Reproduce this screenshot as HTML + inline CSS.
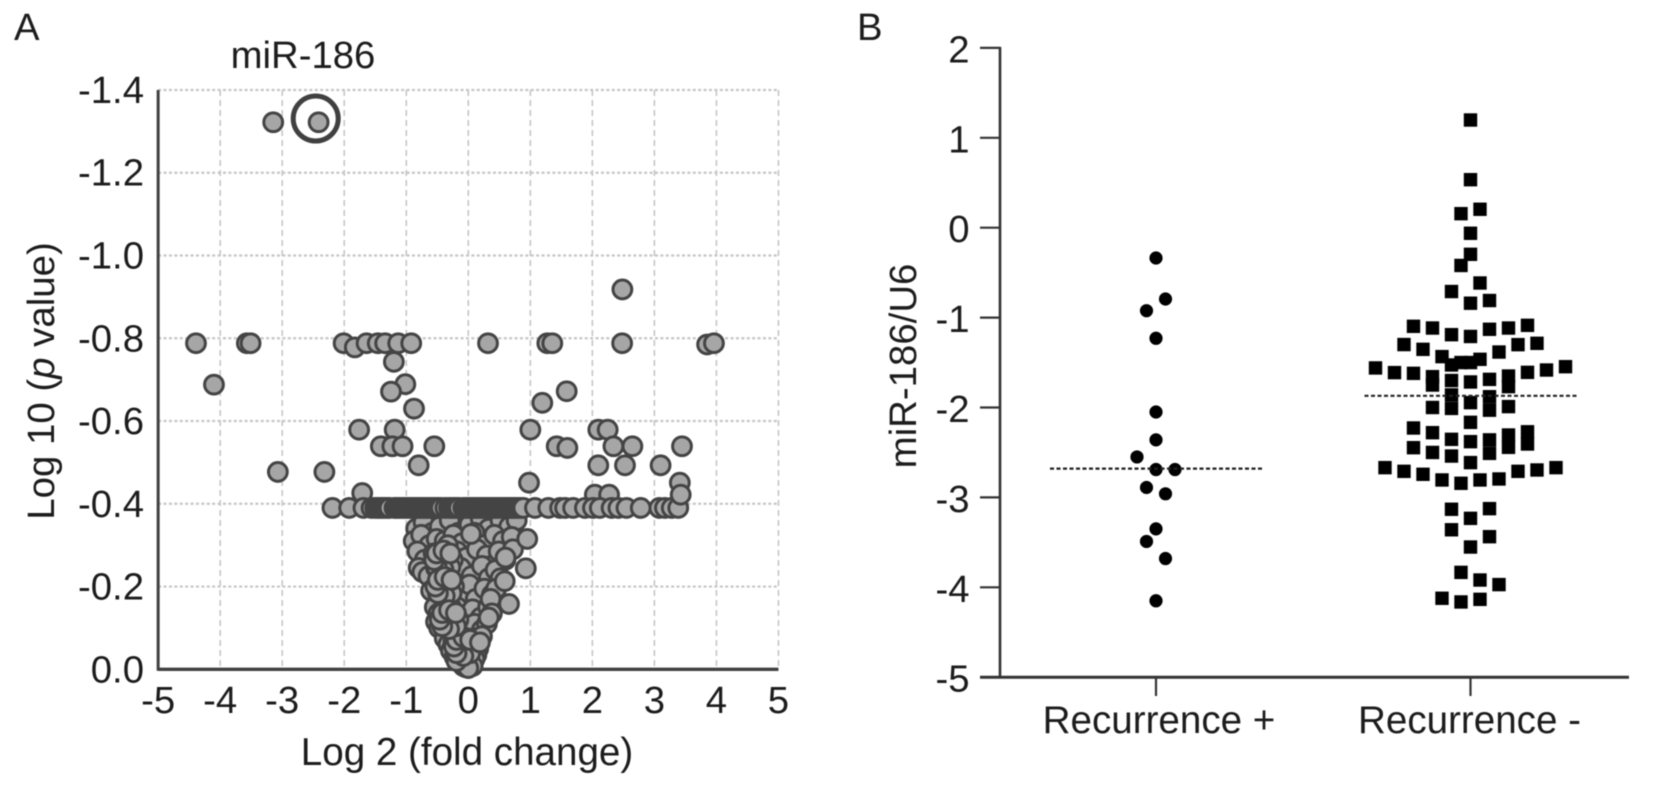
<!DOCTYPE html>
<html lang="en">
<head>
<meta charset="utf-8">
<title>miR-186 volcano plot and dot plot</title>
<style>
html,body{margin:0;padding:0;background:#fff;width:1654px;height:786px;overflow:hidden}
svg{display:block;filter:blur(.5px)}
text{font-family:"Liberation Sans",Arial,sans-serif;fill:#1c1c1c;font-size:38.3px}
.b{font-size:38.6px}
</style>
</head>
<body>
<svg id="fig" xmlns="http://www.w3.org/2000/svg" width="1654" height="786" viewBox="0 0 1654 786">
<rect width="1654" height="786" fill="#fff"/>
<g id="gridA"></g>
<g id="marksA"></g>
<g id="axesA"></g>
<g id="axesB"></g>
<g id="marksB"></g>
<text x="14" y="40">A</text>
<text x="857" y="40">B</text>
<text x="303" y="68" text-anchor="middle">miR-186</text>
<text x="467" y="765" text-anchor="middle" style="font-size:38.6px">Log 2 (fold change)</text>
<text transform="translate(54,381) rotate(-90)" text-anchor="middle" style="font-size:38.4px">Log 10 (<tspan font-style="italic">p</tspan> value)</text>
<text transform="translate(916,366) rotate(-90)" text-anchor="middle" style="font-size:38.4px">miR-186/U6</text>
</svg>
<script>
// ---- Panel A data ----
const volcanoXTicks = [-5,-4,-3,-2,-1,0,1,2,3,4,5];
const volcanoYTicks = [0,-0.2,-0.4,-0.6,-0.8,-1.0,-1.2,-1.4];
const volcanoYTickLabels = ["0.0","-0.2","-0.4","-0.6","-0.8","-1.0","-1.2","-1.4"];
const conePoints = [
 [-.84,-.34],[-.72,-.355],[-.58,-.33],[-.88,-.31],[-.46,-.345],[-.3,-.36],[-.16,-.33],[.02,-.35],[.2,-.365],[.33,-.34],[.52,-.36],[.66,-.345],[.78,-.36],
 [-.76,-.325],[-.63,-.3],[-.51,-.315],[-.38,-.31],[-.24,-.325],[-.1,-.305],[.1,-.33],[.26,-.30],[.42,-.325],[.56,-.31],[.7,-.32],
 [-.82,-.285],[-.7,-.265],[-.8,-.245],[-.56,-.28],[-.44,-.27],[-.37,-.29],[-.31,-.26],[-.18,-.285],[-.03,-.27],[.14,-.29],[.3,-.275],[.37,-.25],[.49,-.285],[.6,-.265],[.72,-.29],
 [-.74,-.235],[-.64,-.225],[-.52,-.245],[-.42,-.24],[-.38,-.215],[-.34,-.25],[-.28,-.23],[-.36,-.27],[-.41,-.20],[-.3,-.19],[-.12,-.245],[.05,-.225],[.22,-.25],[.33,-.22],[.44,-.24],[.52,-.22],
 [-.6,-.19],[-.52,-.2],[-.46,-.17],[-.38,-.165],[-.33,-.145],[-.24,-.2],[-.09,-.18],[.02,-.205],[.12,-.17],[.26,-.195],[.38,-.18],[.45,-.195],
 [-.54,-.15],[-.48,-.135],[-.4,-.125],[-.28,-.11],[-.18,-.15],[-.05,-.13],[.07,-.145],[.2,-.125],[.32,-.15],[.36,-.17],[.38,-.135],
 [-.52,-.115],[-.47,-.10],[-.36,-.09],[-.26,-.08],[-.14,-.1],[-.02,-.09],[.1,-.11],[.22,-.095],[.3,-.11],[.33,-.125],
 [-.38,-.075],[-.32,-.06],[-.28,-.045],[-.24,-.065],[-.17,-.055],[-.1,-.07],[-.02,-.055],[.08,-.075],[.16,-.05],[.22,-.08],[.13,-.035],
 [-.22,-.03],[-.17,-.035],[-.13,-.02],[-.1,-.04],[-.06,-.015],[0,-.03],[.06,-.02],[.1,-.025],[-.08,-.008],[-.04,-.005],[.03,-.01],[.07,-.008],[0,-.003],
 [-.4,-.25],[-.36,-.23],[-.4,-.22],[-.35,-.2],[-.37,-.18],[-.32,-.21],[-.44,-.21],[-.3,-.28],[-.33,-.3],[-.28,-.15],[-.14,-.05],[-.12,-.06],[-.08,-.04],[-.15,-.07],[-.19,-.02],
 [-.25,-.264],[-.29,-.247],[-.4,-.241],[-.51,-.247],[-.55,-.264],[-.51,-.28],[-.4,-.287],[-.29,-.28],
 [-.23,-.2],[-.27,-.184],[-.38,-.177],[-.49,-.184],[-.53,-.2],[-.49,-.216],[-.38,-.223],[-.27,-.216],
 [.07,-.055],[.03,-.039],[-.08,-.032],[-.19,-.039],[-.23,-.055],[-.19,-.071],[-.08,-.078],[.03,-.071],
 [-.16,-.12],[-.2,-.104],[-.31,-.097],[-.42,-.104],[-.46,-.12],[-.42,-.136],[-.31,-.143],[-.2,-.136]
];
const coneTopX = [0.6,0.043,0.587,0.656,0.188,0.927,0.95];
const coneTopY = [-0.27,-0.327,-0.213,-0.158,-0.065,-0.244,-0.315];
const behindBandX = [-1.71,2.04,2.27];
const behindBandY = [-0.426,-0.422,-0.422];
const bandLevel = -0.39;
const bandFoldChanges = [-2.19,-1.92,-1.69,-1.56,-1.5,-1.46,-1.42,-1.38,-1.34,-1.3,-1.27,-1.19,-1.16,-1.12,-1.08,-1.04,-1,-0.96,-0.92,-0.88,-0.84,-0.8,-0.76,-0.72,-0.68,-0.64,-0.6,-0.56,-0.52,-0.48,-0.44,-0.37,-0.31,-0.27,-0.23,-0.19,-0.15,-0.08,-0.04,0,0.04,0.08,0.12,0.16,0.2,0.24,0.28,0.32,0.36,0.4,0.44,0.48,0.52,0.56,0.6,0.64,0.68,0.72,0.76,0.8,0.84,0.887,1.075,1.29,1.48,1.56,1.69,1.88,2.01,2.12,2.31,2.42,2.55,2.78,3.08,3.17,3.28,3.385];
const sparseX = [-3.145,-2.413,2.484,-4.39,-3.57,-3.51,-2.01,-1.83,-1.64,-1.46,-1.34,-1.13,-0.92,0.318,1.274,1.354,2.48,3.85,3.96,-1.2,-4.1,-1.015,-1.246,-0.875,1.586,1.193,-1.76,-1.187,1.0,2.096,2.247,-1.41,-1.225,-1.06,-0.548,1.425,1.597,2.34,2.645,3.445,-0.8,-3.07,-2.32,2.096,2.526,3.1,0.979,3.41,3.424];
const sparseY = [-1.322,-1.322,-0.918,-0.788,-0.788,-0.788,-0.788,-0.778,-0.788,-0.788,-0.788,-0.788,-0.788,-0.788,-0.788,-0.788,-0.788,-0.785,-0.788,-0.743,-0.688,-0.689,-0.671,-0.63,-0.672,-0.644,-0.579,-0.579,-0.579,-0.579,-0.579,-0.539,-0.539,-0.539,-0.539,-0.539,-0.535,-0.539,-0.539,-0.539,-0.493,-0.477,-0.477,-0.493,-0.493,-0.493,-0.451,-0.451,-0.422];
const circledPointX = -2.46;
const circledPointY = -1.331;

// ---- Panel B data ----
const groupLabels = ["Recurrence +","Recurrence -"];
const dotYTicks = [2,1,0,-1,-2,-3,-4,-5];
const groupMeans = [-2.68,-1.87];
const recurrencePosValues = [-0.337,-0.793,-0.923,-1.23,-2.05,-2.36,-2.55,-2.69,-2.69,-2.89,-2.96,-3.35,-3.49,-3.68,-4.15];
const recurrencePosSlots  = [0,1,-1,0,0,0,-2,0,2,-1,1,0,-1,1,0];
const recurrenceNegValues = [1.198,0.534,0.205,0.156,-0.062,-0.296,-0.42,-0.615,-0.71,-0.81,-0.84,-1.097,-1.116,-1.086,-1.116,-1.13,-1.19,-1.21,-1.30,-1.353,-1.383,-1.301,-1.286,-1.434,-1.464,-1.5,-1.5,-1.527,-1.56,-1.546,-1.583,-1.609,-1.612,-1.62,-1.657,-1.75,-1.65,-1.768,-1.687,-1.7,-1.716,-1.86,-2.01,-1.88,-2.03,-1.946,-2.0,-1.99,-2.165,-2.228,-2.28,-2.306,-2.443,-2.27,-2.406,-2.354,-2.38,-2.36,-2.51,-2.447,-2.5,-2.54,-2.613,-2.669,-2.669,-2.695,-2.71,-2.71,-2.743,-2.806,-2.806,-2.795,-2.843,-3.132,-3.125,-3.233,-3.36,-3.437,-3.552,-3.834,-3.919,-3.97,-4.122,-4.134,-4.163];
const recurrenceNegSlots  = [0,0,1,-1,0,0,-1,1,-2,2,0,-6,-4,6,4,2,-2,0,-7,-5,3,5,7,-3,1,0,-1,-2,-10,10,8,6,-8,-6,-4,-4,4,4,2,-2,0,-2,-2,2,2,0,-4,4,0,-6,-4,4,4,6,6,-2,0,2,2,-6,-4,-2,0,-9,9,7,5,-7,-5,-3,1,3,-1,-2,2,0,-2,2,0,-1,1,3,-3,1,-1];

// ---- Scales ----
const NS = 'http://www.w3.org/2000/svg';
const xA = v => 468.3 + 62.03 * v;
const yA = v => 669.3 + 413.8 * v;
const yB = v => 227.7 - 89.9 * v;
const groupCenters = [1156, 1470.5];
const slotWidth = 9.5;
const xB = (g, s) => groupCenters[g] + s * slotWidth;

function make(tag, parent, attrs, txt){
  const el = document.createElementNS(NS, tag);
  for (const k in attrs) el.setAttribute(k, attrs[k]);
  if (txt !== undefined) el.textContent = txt;
  parent.appendChild(el);
  return el;
}
const gridA = document.getElementById('gridA');
const marksA = document.getElementById('marksA');
const axesA = document.getElementById('axesA');
const axesB = document.getElementById('axesB');
const marksB = document.getElementById('marksB');

// ---- Panel A grid ----
volcanoXTicks.forEach(t => {
  if (t === -5) return;
  const l = make('line', gridA, {x1:xA(t), x2:xA(t), y1:yA(-1.4), y2:yA(0), stroke:'#c6c6c6', 'stroke-width':1.6, 'stroke-dasharray':'6 4'});
  
  
});
volcanoYTicks.forEach(t => {
  if (t === 0) return;
  const l = make('line', gridA, {x1:xA(-5), x2:xA(5), y1:yA(t), y2:yA(t), stroke:'#c6c6c6', 'stroke-width':2.2, 'stroke-dasharray':'3 2.4'});
  
  
});

// ---- Panel A axes sit under the points ----
const axYA = make('line', axesA, {x1:xA(-5), x2:xA(-5), y1:yA(-1.4), y2:yA(0)+1.5, stroke:'#404040', 'stroke-width':3});


const axXA = make('line', axesA, {x1:xA(-5), x2:xA(5), y1:yA(0), y2:yA(0), stroke:'#404040', 'stroke-width':3.4});


volcanoXTicks.forEach(t => {
  const l = make('text', axesA, {x:xA(t), y:713, 'text-anchor':'middle'}, String(t));
  
  
});
volcanoYTicks.forEach((t, i) => {
  const l = make('text', axesA, {x:144, y:yA(t)+13, 'text-anchor':'end'}, volcanoYTickLabels[i]);
  
  
});
document.getElementById('fig').insertBefore(axesA, marksA);

// ---- Panel A points ----
function volcanoPoint(fc, lp){
  const c = make('circle', marksA, {cx:xA(fc), cy:yA(lp), r:9.4, fill:'#a6a6a6', stroke:'#444444', 'stroke-width':3});
  
  
}
conePoints.forEach(p => volcanoPoint(p[0], p[1]));
coneTopX.forEach((fc, i) => volcanoPoint(fc, coneTopY[i]));
behindBandX.forEach((fc, i) => volcanoPoint(fc, behindBandY[i]));
bandFoldChanges.forEach(fc => volcanoPoint(fc, bandLevel));
sparseX.forEach((fc, i) => volcanoPoint(fc, sparseY[i]));
const ring = make('circle', marksA, {cx:xA(circledPointX), cy:yA(circledPointY), r:22.5, fill:'none', stroke:'#404040', 'stroke-width':5});



// ---- Panel B axes ----
const axYB = make('line', axesB, {x1:1000, x2:1000, y1:yB(2)-1, y2:yB(-5), stroke:'#333', 'stroke-width':2.6});


const axXB = make('line', axesB, {x1:980, x2:1629, y1:yB(-5), y2:yB(-5), stroke:'#333', 'stroke-width':3});


dotYTicks.forEach(t => {
  const k = make('line', axesB, {x1:980, x2:1000, y1:yB(t), y2:yB(t), stroke:'#333', 'stroke-width':2.2});
  
  
  const l = make('text', axesB, {x:969.5, y:yB(t)+14.5, 'text-anchor':'end'}, String(t));
  
  
});
groupLabels.forEach((g, i) => {
  const k = make('line', axesB, {x1:groupCenters[i], x2:groupCenters[i], y1:yB(-5), y2:696, stroke:'#333', 'stroke-width':2.2});
  
  
  const l = make('text', axesB, {x:groupCenters[i]+(i===0?3:-1), y:733, 'text-anchor':'middle', class:'b'}, g);
  
  
});

// ---- Panel B marks ----
recurrencePosValues.forEach((v, i) => {
  const c = make('circle', marksB, {cx:xB(0, recurrencePosSlots[i]), cy:yB(v), r:6.6, fill:'#000'});
  
  
});
recurrenceNegValues.forEach((v, i) => {
  const r = make('rect', marksB, {x:xB(1, recurrenceNegSlots[i])-6.7, y:yB(v)-6.7, width:13.4, height:13.4, fill:'#000'});
  
  
});
groupMeans.forEach((m, i) => {
  const l = make('line', marksB, {x1:groupCenters[i]-106, x2:groupCenters[i]+106, y1:yB(m), y2:yB(m), stroke:'#222', 'stroke-width':2.2, 'stroke-dasharray':'4 2.5'});
  
  
});
</script>
</body>
</html>
